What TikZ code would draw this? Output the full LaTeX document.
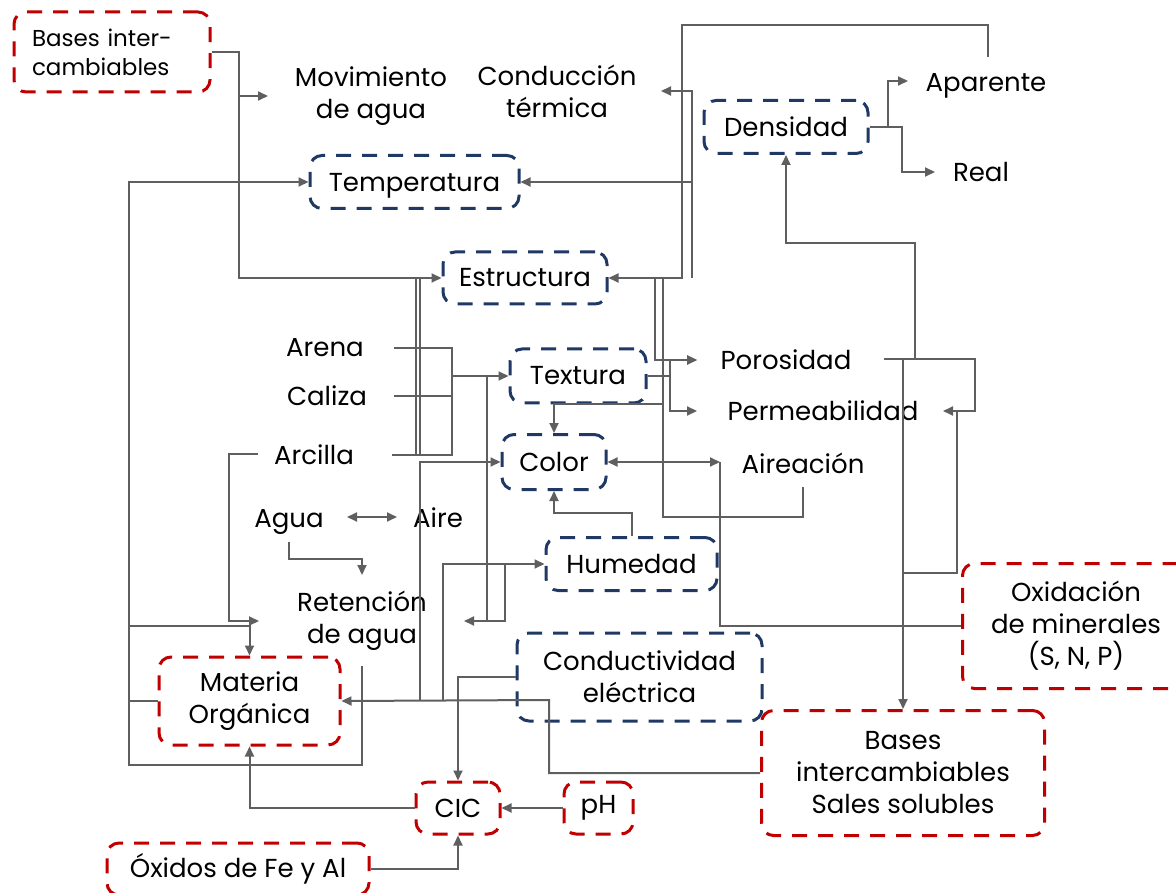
\documentclass[tikz,border=0pt]{standalone}
\usepackage{fontspec}
\setmainfont{Poppins}
\usetikzlibrary{arrows.meta,positioning,calc}
\definecolor{lineG}{HTML}{5F5F5F}
\definecolor{boxBlue}{HTML}{1F3864}
\definecolor{boxRed}{HTML}{C00000}

\begin{document}
\begin{tikzpicture}[x=1pt,y=-1pt,
    every node/.style={font=\fontsize{26}{32}\selectfont, align=center, text=black},
    ln/.style={draw=lineG, line width=2pt},
    arr/.style={ln, -{Triangle[length=10pt,width=9pt]}},
    darr/.style={ln, {Triangle[length=10pt,width=9pt]}-{Triangle[length=10pt,width=9pt]}},
    boxB/.style={draw=boxBlue, line width=3pt, dash pattern=on 15pt off 11pt, rounded corners=12pt, inner sep=0pt},
    boxR/.style={boxB, draw=boxRed}]
    \useasboundingbox (0,0) rectangle (1176,893);

    % dashed boxes
    \node[boxR, minimum width=196pt, minimum height=80pt, text width=160pt, align=left,
          font=\fontsize{23}{29}\selectfont] (basesA) at (112,52) {Bases inter-\\cambiables};
    \node[boxB, minimum width=209pt, minimum height=53pt, text depth=0pt] (temp) at (414.5,182) {Temperatura};
    \node[boxB, minimum width=164pt, minimum height=53pt] (dens) at (786,127) {Densidad};
    \node[boxB, minimum width=164pt, minimum height=52pt] (estr) at (525,278) {Estructura};
    \node[boxB, minimum width=136pt, minimum height=54pt] (textura) at (578,376) {Textura};
    \node[boxB, minimum width=104pt, minimum height=55pt] (color) at (554,462) {Color};
    \node[boxB, minimum width=171pt, minimum height=53pt] (hum) at (631.5,564) {Humedad};
    \node[boxB, minimum width=245pt, minimum height=88pt] (condE) at (639.5,677) {Conductividad\\eléctrica};
    \node[boxR, minimum width=181pt, minimum height=88pt] (mo) at (249.5,701) {Materia\\Orgánica};
    \node[boxR, minimum width=84pt, minimum height=52pt] (cic) at (458,808) {CIC};
    \node[boxR, minimum width=69pt, minimum height=52pt] (ph) at (598.5,808) {pH};
    \node[boxR, minimum width=262pt, minimum height=52pt] (oxidos) at (238,869) {Óxidos de Fe y Al};
    \node[boxR, minimum width=283pt, minimum height=125pt] (bases) at (903,773) {Bases\\intercambiables\\Sales solubles};
    \node[boxR, minimum width=227pt, minimum height=125pt] (oxid) at (1076,626) {Oxidación\\de minerales\\(S, N, P)};

    % plain labels
    \node (mov) at (371,96) {Movimiento\\de agua};
    \node (condT) at (557,91) {Conducción\\térmica};
    \node[text depth=0pt] (apar) at (986,82) {Aparente};
    \node (real) at (981,172) {Real};
    \node (arena) at (325,348) {Arena};
    \node (caliza) at (327,396) {Caliza};
    \node (arcilla) at (314,455) {Arcilla};
    \node[text depth=0pt] (agua) at (289,518) {Agua};
    \node (aire) at (438,518) {Aire};
    \node (ret) at (362,621) {Retención\\de agua};
    \node (poro) at (786,360) {Porosidad};
    \node (perm) at (823,411) {Permeabilidad};
    \node (airea) at (803,463) {Aireación};

    \coordinate (movIn) at (268,96);
    \coordinate (condTIn) at (661,91);
    \coordinate (apOut) at (988,57);
    \coordinate (apIn) at (908,81);
    \coordinate (realIn) at (935,172);
    \coordinate (poroIn) at (697,360);
    \coordinate (poroOut) at (884,359);
    \coordinate (permIn) at (697,411);
    \coordinate (permR) at (943,411);
    \coordinate (aireaIn) at (720,462);
    \coordinate (aireaOut) at (803,487);
    \coordinate (arenaOut) at (394,348);
    \coordinate (calizaOut) at (394,396);
    \coordinate (arcillaR) at (392,455);
    \coordinate (arcillaL) at (258,454);
    \coordinate (aguaOut) at (289,542);
    \coordinate (aguaR) at (347,517);
    \coordinate (aireL) at (397,517);
    \coordinate (retTop) at (362,575);
    \coordinate (retL) at (259,621);
    \coordinate (retR) at (464,621);
    \coordinate (retOut) at (362,666);

    % top part
    \draw[arr] (basesA.east) -| (239,278) -- (estr.west);
    \draw[arr] (239,96) -- (movIn);
    \draw[arr] (apOut) -- (988,25) -| (682,278) -- (estr.east);
    \draw[arr] (692,278) |- (condTIn);
    \draw[arr] (692,182) -- (temp.east);
    \draw[arr] (dens.east) -- (902,127) |- (realIn);
    \draw[arr] (888,127) |- (apIn);

    % middle
    \draw[arr] (655,278) |- (poroIn);
    \draw[ln] (663,278) -- (663,517) -| (aireaOut);
    \draw[arr] (663,404) -| (color.north);
    \draw[ln] (textura.east) -- (670,376);
    \draw[arr] (670,376) |- (poroIn);
    \draw[arr] (670,376) |- (permIn);
    \draw[darr] (color.east) -- (aireaIn);
    \draw[ln] (oxid.west) -| (aireaIn);
    \draw[arr] (hum.north) |- ([yshift=-22pt]color.south) -- (color.south);
    \foreach \s in {arenaOut,calizaOut,arcillaR}
        \draw[ln] (\s) -| (452,376);
    \draw[arr] (452,376) -- (textura.west);
    \draw[ln] (416,278) -- (416,455);
    \draw[ln] (420,278) -- (420,455);
    \draw[arr] (420,700) |- (color.west);
    \draw[arr] (443,700) |- (hum.west);
    \draw[arr] (505,564) |- (retR);
    \draw[ln] (487,376) -- (487,621);

    % right side
    \draw[arr] (915,359) -- (915,243) -| (dens.south);
    \draw[arr] (poroOut) -- (975,359) |- (permR);
    \draw[arr] (903,359) -- (bases.north);
    \draw[ln] (903,573) -| (957,411);

    % bottom
    \draw[arr] (bases.west) -| (549,700) -- (mo.east);
    \draw[arr] (condE.west) -| (cic.north);
    \draw[arr] (ph.west) -- (cic.east);
    \draw[arr] (cic.west) -| (mo.south);
    \draw[arr] (oxidos.east) -| (cic.south);
    \draw[arr] (retOut) -- (362,765) -| (129,182) -- (temp.west);
    \draw[arr] (129,626) -| (mo.north);
    \draw[ln] (mo.west) -- (129,701);
    \draw[arr] (arcillaL) -| (229,621) -- (retL);
    \draw[arr] (aguaOut) |- (362,559) -- (retTop);
    \draw[darr] (aguaR) -- (aireL);
\end{tikzpicture}
\end{document}
